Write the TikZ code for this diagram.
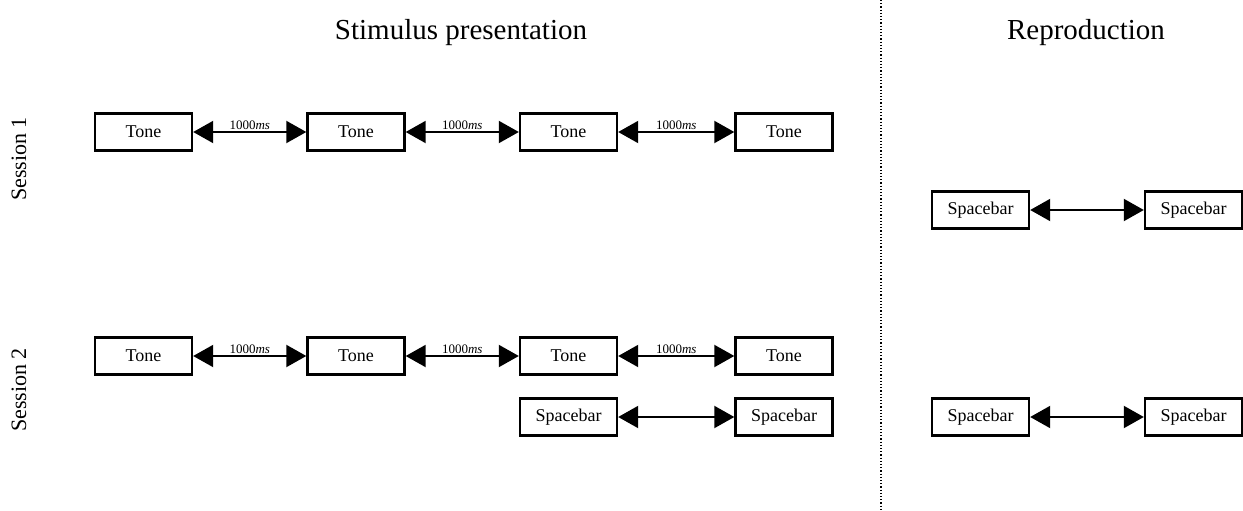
\documentclass[tikz,border=0pt]{standalone}
\usepackage{fontspec}
\setmainfont{Liberation Serif}
\usetikzlibrary{arrows.meta}
\begin{document}
\begin{tikzpicture}[x=1pt,y=-1pt,
  box/.style={draw,line width=2.4pt,minimum width=97pt,minimum height=37pt,inner sep=0pt,font=\fontsize{18}{20}\selectfont},
  conn/.style={line width=2pt,{Triangle[length=20pt,width=22pt]}-{Triangle[length=20pt,width=22pt]}},
  lab/.style={font=\fontsize{13}{15}\selectfont,inner sep=1pt},
  title/.style={font=\fontsize{29}{33}\selectfont},
  sess/.style={font=\fontsize{22}{26}\selectfont,rotate=90}]
\useasboundingbox (0,0) rectangle (1243,511);
\node[title] (t1) at (461,33) {Stimulus presentation};
\node[title] (t2) at (1086,33) {Reproduction};
\node[sess] (s1) at (19,159) {Session 1};
\node[sess] (s2) at (19,390) {Session 2};
\coordinate (dtop) at (881,0);
\coordinate (dbot) at (881,511);
\draw[dotted,line width=1.2pt] (dtop) -- (dbot);
% session 1 tones
\node[box] (a1) at (143.5,132) {Tone};
\node[box] (a2) at (356,132) {Tone};
\node[box] (a3) at (568.5,132) {Tone};
\node[box] (a4) at (784,132) {Tone};
\draw[conn] (a1) -- node[lab,above] {1000\textit{ms}} (a2);
\draw[conn] (a2) -- node[lab,above] {1000\textit{ms}} (a3);
\draw[conn] (a3) -- node[lab,above] {1000\textit{ms}} (a4);
% session 2 tones
\node[box] (b1) at (143.5,356) {Tone};
\node[box] (b2) at (356,356) {Tone};
\node[box] (b3) at (568.5,356) {Tone};
\node[box] (b4) at (784,356) {Tone};
\draw[conn] (b1) -- node[lab,above] {1000\textit{ms}} (b2);
\draw[conn] (b2) -- node[lab,above] {1000\textit{ms}} (b3);
\draw[conn] (b3) -- node[lab,above] {1000\textit{ms}} (b4);
% session 2 spacebar
\node[box] (c1) at (568.5,417) {Spacebar};
\node[box] (c2) at (784,417) {Spacebar};
\draw[conn] (c1) -- (c2);
% reproduction
\node[box] (r1) at (980.5,210) {Spacebar};
\node[box] (r2) at (1193.5,210) {Spacebar};
\draw[conn] (r1) -- (r2);
\node[box] (q1) at (980.5,417) {Spacebar};
\node[box] (q2) at (1193.5,417) {Spacebar};
\draw[conn] (q1) -- (q2);
\end{tikzpicture}
\end{document}
